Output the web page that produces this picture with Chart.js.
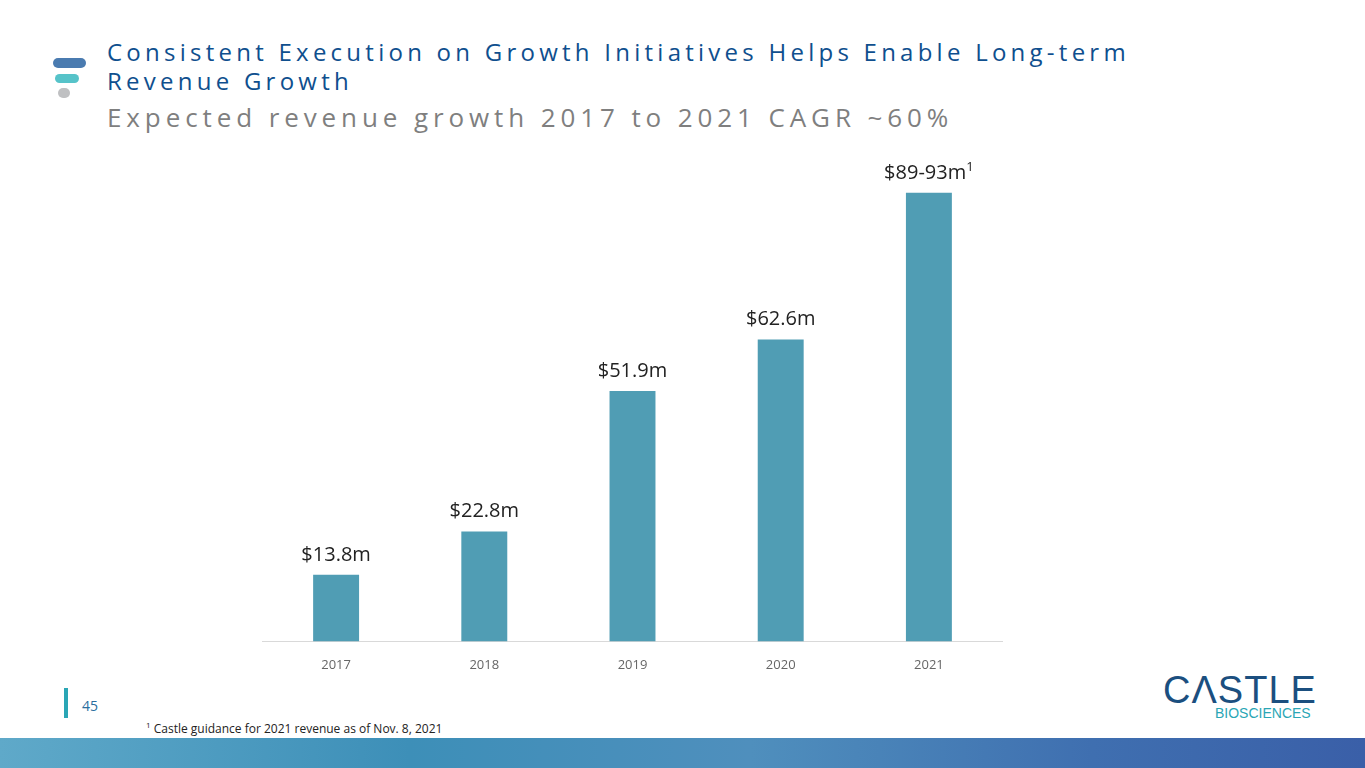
<!DOCTYPE html>
<html><head><meta charset="utf-8">
<script src="https://cdn.jsdelivr.net/npm/chart.js@4"></script>
<style>
body{margin:0;width:1365px;height:768px;position:relative;overflow:hidden;background:#fff;font-family:"Open Sans",sans-serif}
.t{position:absolute;left:107px;color:#0f4f8e;font-size:24px;letter-spacing:4.25px;line-height:29px;top:37px;white-space:nowrap}
.s{position:absolute;left:107px;top:99px;color:#7f7f7f;font-size:26px;letter-spacing:4.9px;white-space:nowrap}
.b1{position:absolute;left:53px;top:58px;width:33px;height:10px;border-radius:5px;background:#4a7bb0}
.b2{position:absolute;left:55px;top:74px;width:24px;height:9px;border-radius:5px;background:#56c3c9}
.b3{position:absolute;left:58px;top:88px;width:12px;height:10px;border-radius:5px;background:#bfc0c2}
#wrap{position:absolute;left:262px;top:159px;width:741px;height:522px}
.pg{position:absolute;left:82px;top:696px;font-size:14px;color:#2a6e9e}
.pb{position:absolute;left:64px;top:688px;width:4px;height:30px;background:#2aa6b5}
.fn{position:absolute;left:146px;top:719px;font-size:12px;color:#222}
.band{position:absolute;left:0;top:738px;width:1365px;height:30px;background:linear-gradient(90deg,#5fa9c9,#3d8fb8 30%,#4f8fbd 55%,#3f6fb0 80%,#3a5fa8)}
.logo{position:absolute;left:1163px;top:670px;color:#1b4f7f;font-size:38px;letter-spacing:1px;font-family:"Liberation Sans";line-height:40px}
.logo2{position:absolute;left:1215px;top:705px;color:#2aa6b5;font-size:14px;font-family:"Liberation Sans"}
</style></head><body>
<div class="b1"></div><div class="b2"></div><div class="b3"></div>
<div class="t">Consistent Execution on Growth Initiatives Helps Enable Long-term<br>Revenue Growth</div>
<div class="s">Expected revenue growth 2017 to 2021 CAGR ~60%</div>
<div id="wrap"><canvas id="c"></canvas></div>
<div class="pb"></div><div class="pg">45</div>
<div class="fn"><sup style="font-size:8px">1</sup> Castle guidance for 2021 revenue as of Nov. 8, 2021</div>
<div class="logo">CΛSTLE</div><div class="logo2">BIOSCIENCES</div>
<div class="band"></div>
<script>
const categories=["2017","2018","2019","2020","2021"];
const revenue=[13.8,22.8,51.9,62.6,93];
const valueLabels=["$13.8m","$22.8m","$51.9m","$62.6m","$89-93m"];
const labelSup=["","","","","1"];
const lbl={id:"lbl",afterDatasetsDraw(ch){const c=ch.ctx;const m=ch.getDatasetMeta(0);c.save();c.fillStyle="#222";c.textBaseline="alphabetic";
m.data.forEach((b,i)=>{c.font="20px 'Open Sans'";const w=c.measureText(valueLabels[i]).width;c.font="13px 'Open Sans'";const ws=labelSup[i]?c.measureText(labelSup[i]).width:0;
const x0=b.x-(w+ws)/2;c.font="20px 'Open Sans'";c.textAlign="left";c.fillText(valueLabels[i],x0,b.y-14);
if(ws){c.font="13px 'Open Sans'";c.fillText(labelSup[i],x0+w,b.y-22);}});c.restore();}};
new Chart(document.getElementById("c"),{type:"bar",data:{labels:categories,datasets:[{data:revenue,backgroundColor:"#509db4",barPercentage:0.62,categoryPercentage:0.5}]},
options:{responsive:true,maintainAspectRatio:false,animation:false,layout:{padding:0},plugins:{legend:{display:false},tooltip:{enabled:false}},
scales:{y:{display:false,min:0,max:100},x:{grid:{display:false},border:{color:"#d9d9d9"},ticks:{color:"#666",font:{size:13,family:"Open Sans"},padding:8}}}},plugins:[lbl]});
</script></body></html>
